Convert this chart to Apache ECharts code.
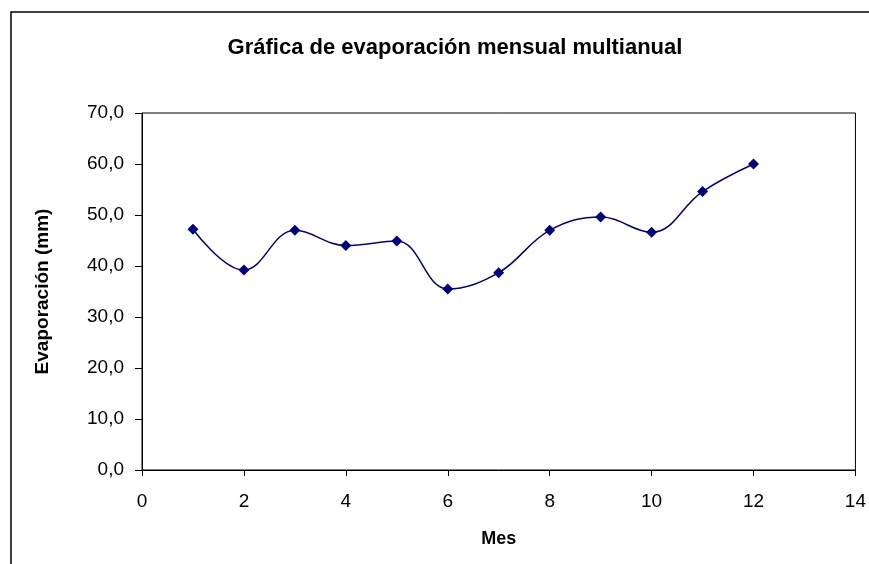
<!DOCTYPE html>
<html>
<head>
<meta charset="utf-8">
<script src="https://cdn.jsdelivr.net/npm/echarts@6/dist/echarts.min.js"></script>
<style>
  html, body { margin: 0; padding: 0; background: #fff; }
</style>
</head>
<body>
<div id="chart" style="width: 869px; height: 564px"></div>
<script>
// datos
const meses = [1, 2, 3, 4, 5, 6, 7, 8, 9, 10, 11, 12]
const evaporacion = [47.2, 39.2, 47.0, 44.0, 44.9, 35.5, 38.7, 47.0, 49.6, 46.6, 54.6, 60.0]

const myChart = echarts.init(document.getElementById('chart'))

const fontFam = '"Liberation Sans", Arial, sans-serif'

const option = {
  backgroundColor: '#fff',
  animation: false,
  title: {
    text: 'Gráfica de evaporación mensual multianual',
    left: 450,
    top: 32,
    textAlign: 'center',
    textStyle: { fontFamily: fontFam, fontSize: 22, fontWeight: 'bold', color: '#000' },
  },
  graphic: [
    {
      type: 'rect',
      shape: { x: 11, y: 12, width: 880, height: 600 },
      style: { fill: 'none', stroke: '#000', lineWidth: 1.5 },
      silent: true,
    },
  ],
  grid: {
    left: 142,
    top: 113,
    right: 13,
    bottom: 94,
    show: true,
    borderColor: '#000',
    borderWidth: 1,
    backgroundColor: '#fff',
  },
  xAxis: {
    type: 'value',
    min: 0,
    max: 14,
    interval: 2,
    name: 'Mes',
    nameLocation: 'middle',
    nameGap: 60,
    nameTextStyle: { fontFamily: fontFam, fontSize: 18, fontWeight: 'bold', color: '#000' },
    axisLine: { show: true, lineStyle: { color: '#000', width: 1 } },
    axisTick: { show: true, length: 6, lineStyle: { color: '#000' } },
    axisLabel: { margin: 22, fontFamily: fontFam, fontSize: 19, color: '#000' },
    splitLine: { show: false },
  },
  yAxis: {
    type: 'value',
    min: 0,
    max: 70,
    interval: 10,
    name: 'Evaporación (mm)',
    nameLocation: 'middle',
    nameGap: 90,
    nameTextStyle: { fontFamily: fontFam, fontSize: 19, fontWeight: 'bold', color: '#000' },
    axisLine: { show: true, lineStyle: { color: '#000', width: 1 } },
    axisTick: { show: true, inside: false, length: 7, lineStyle: { color: '#000' } },
    axisLabel: {
      margin: 18,
      fontFamily: fontFam,
      fontSize: 19,
      color: '#000',
      formatter: (v) => v.toFixed(1).replace('.', ','),
    },
    splitLine: { show: false },
  },
  series: [
    {
      name: 'Evaporación',
      type: 'line',
      smooth: 0.4,
      data: meses.map((m, i) => [m, evaporacion[i]]),
      symbol: 'diamond',
      symbolSize: 11,
      lineStyle: { color: '#000080', width: 1.5 },
      itemStyle: { color: '#000080' },
    },
  ],
}

myChart.setOption(option)
</script>
</body>
</html>
